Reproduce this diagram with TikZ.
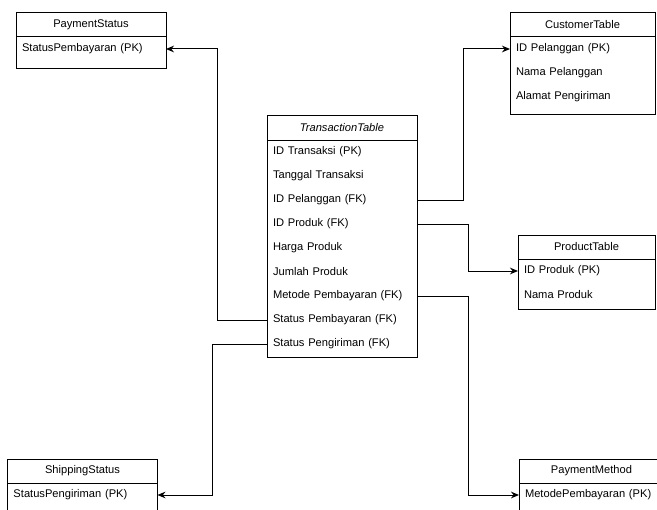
\documentclass[tikz,border=0pt]{standalone}
\usepackage{fontspec}
\setmainfont{Liberation Sans}
\usetikzlibrary{positioning,arrows.meta}

\tikzset{
  tblhead/.style={draw, minimum width=#1, minimum height=18pt, inner sep=0pt, outer sep=0pt},
  tblbody/.style={draw, minimum width=#1, inner sep=0pt, outer sep=0pt},
  tblrow/.style={text width=#1, minimum height=18pt, inner xsep=4.5pt, inner ysep=0pt, outer sep=0pt, align=left},
  fk/.style={-{Stealth[length=6pt,width=5pt]}},
}

\begin{document}
\begin{tikzpicture}[x=0.75pt, y=-0.75pt, line width=0.75pt, font=\fontsize{8.35pt}{10pt}\selectfont]
  \useasboundingbox (0,0) rectangle (657,510);
  \clip (0,0) rectangle (657,510);

  % Tables
  \node[tblhead=112.5pt] (PS) at (91,25) {PaymentStatus};
  \node[tblbody=112.5pt, minimum height=24pt, below=0pt of PS] (PSb) {};
  \node[tblrow=103.5pt, below=0pt of PS] (PS1) {StatusPembayaran (PK)};

  \node[tblhead=108.75pt] (CT) at (582.5,25) {CustomerTable};
  \node[tblbody=108.75pt, minimum height=58.5pt, below=0pt of CT] (CTb) {};
  \node[tblrow=99.75pt, below=0pt of CT] (CT1) {ID Pelanggan (PK)};
  \node[tblrow=99.75pt, below=0pt of CT1] (CT2) {Nama Pelanggan};
  \node[tblrow=99.75pt, below=0pt of CT2] (CT3) {Alamat Pengiriman};

  \node[tblhead=112.5pt, font=\fontsize{8.35pt}{10pt}\selectfont\itshape] (TT) at (342,128) {TransactionTable};
  \node[tblbody=112.5pt, minimum height=162.75pt, below=0pt of TT] (TTb) {};
  \node[tblrow=103.5pt, below=0pt of TT] (TT1) {ID Transaksi (PK)};
  \node[tblrow=103.5pt, below=0pt of TT1] (TT2) {Tanggal Transaksi};
  \node[tblrow=103.5pt, below=0pt of TT2] (TT3) {ID Pelanggan (FK)};
  \node[tblrow=103.5pt, below=0pt of TT3] (TT4) {ID Produk (FK)};
  \node[tblrow=103.5pt, below=0pt of TT4] (TT5) {Harga Produk};
  \node[tblrow=103.5pt, below=0pt of TT5] (TT6) {Jumlah Produk};
  \node[tblrow=103.5pt, below=0pt of TT6] (TT7) {Metode Pembayaran (FK)};
  \node[tblrow=103.5pt, below=0pt of TT7] (TT8) {Status Pembayaran (FK)};
  \node[tblrow=103.5pt, below=0pt of TT8] (TT9) {Status Pengiriman (FK)};

  \node[tblhead=102.75pt] (PT) at (586.5,247) {ProductTable};
  \node[tblbody=102.75pt, minimum height=37.5pt, below=0pt of PT] (PTb) {};
  \node[tblrow=93.75pt, below=0pt of PT] (PT1) {ID Produk (PK)};
  \node[tblrow=93.75pt, below=0pt of PT1] (PT2) {Nama Produk};

  \node[tblhead=112.5pt] (SS) at (82.5,471) {ShippingStatus};
  \node[tblbody=112.5pt, minimum height=24pt, below=0pt of SS] (SSb) {};
  \node[tblrow=103.5pt, below=0pt of SS] (SS1) {StatusPengiriman (PK)};

  \node[tblhead=108.75pt] (PM) at (591.5,471) {PaymentMethod};
  \node[tblbody=108.75pt, minimum height=24pt, below=0pt of PM] (PMb) {};
  \node[tblrow=99.75pt, below=0pt of PM] (PM1) {MetodePembayaran (PK)};

  % Relations
  \draw[fk] (TT3.east) -- ++(46,0) |- (CT1.west);
  \draw[fk] (TT4.east) -- ++(51,0) |- (PT1.west);
  \draw[fk] (TT7.east) -- ++(51,0) |- (PM1.west);
  \draw[fk] (TT8.west) -- ++(-50,0) |- (PS1.east);
  \draw[fk] (TT9.west) -- ++(-55,0) |- (SS1.east);
\end{tikzpicture}
\end{document}
